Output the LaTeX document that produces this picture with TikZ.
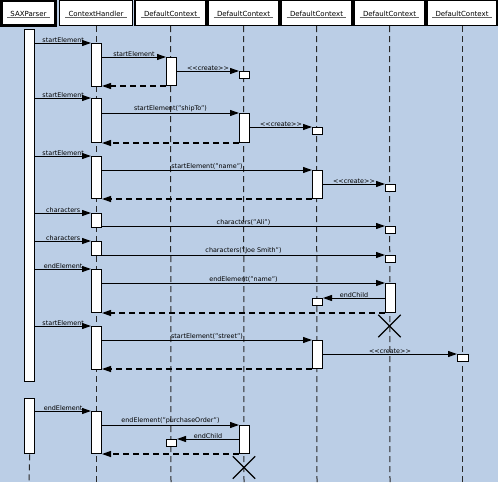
\documentclass[tikz,border=0pt]{standalone}
\usepackage{fontspec}
\setmainfont[Ligatures=NoCommon]{DejaVu Sans}
\usetikzlibrary{arrows.meta,shapes.misc}
\definecolor{bgblue}{RGB}{187,206,230}
\definecolor{lifegray}{RGB}{40,40,40}
\newcommand{\crt}{{<}{<}create{>}{>}}
\tikzset{
  hdr/.style={draw=black, fill=white, line width=1.2pt, rectangle, inner sep=0pt, minimum height=25pt},
  htxt/.style={inner sep=1.2pt, font=\fontsize{7}{8}\selectfont},
  uline/.style={draw=gray!80!black, line width=0.6pt},
  life/.style={draw=lifegray, line width=1pt, dash pattern=on 6pt off 4pt},
  bar/.style={draw=black, fill=white, line width=1pt, rectangle, inner sep=0pt, minimum width=10pt, anchor=north west},
  obox/.style={draw=black, fill=white, line width=1pt, rectangle, inner sep=0pt, minimum width=10pt, minimum height=7pt, anchor=north west},
  msg/.style={draw=black, line width=1pt, -{Triangle[length=9pt,width=6pt]}},
  ret/.style={draw=black, line width=1.2pt, dash pattern=on 6pt off 4pt, -{Triangle[length=9pt,width=6pt]}},
  lbl/.style={inner sep=0.3pt, above, font=\fontsize{6.4}{7}\selectfont},
  destroy/.style={cross out, draw=black, line width=1.3pt, minimum width=21pt, minimum height=21pt, inner sep=0pt}
}
\begin{document}
\begin{tikzpicture}[x=1pt,y=-1pt]
\fill[bgblue] (0,0) rectangle (498,482);
\useasboundingbox (0,0) rectangle (498,482);

% headers
\node[hdr, line width=2.5pt, minimum width=54pt] (hSAX) at (28.5,13) {};
\node[hdr, minimum width=73pt] (hCH) at (96,13) {};
\node[hdr, minimum width=71pt] (hD1) at (170.5,13) {};
\node[hdr, minimum width=71pt] (hD2) at (243.5,13) {};
\node[hdr, minimum width=71pt] (hD3) at (316.5,13) {};
\node[hdr, minimum width=71pt] (hD4) at (389.5,13) {};
\node[hdr, minimum width=70pt] (hD5) at (462,13) {};
\foreach \n/\t in {SAX/SAXParser, CH/ContextHandler, D1/DefaultContext, D2/DefaultContext, D3/DefaultContext, D4/DefaultContext, D5/DefaultContext}{
  \node[htxt] (t\n) at ([yshift=-0.5pt]h\n.center) {\t};
  \draw[uline] ([xshift=-2pt]t\n.south west) -- ([xshift=2pt]t\n.south east);
}

% lifeline ends
\coordinate (eSAX) at (29,482);
\coordinate (eCH) at (96,482);
\coordinate (eD1) at (171,482);
\coordinate (eD2) at (244,482);
\coordinate (eD3) at (317,482);
\coordinate (eD4) at (390,482);
\coordinate (eD5) at (462,482);
\foreach \n in {CH,D1,D2,D3,D4,D5}{
  \draw[life] (h\n.south) -- (e\n);
}

% activation bars and objects
\node[bar, minimum height=352pt, line width=1.4pt] (sax1) at (24,29) {};
\node[bar, minimum height=55pt, line width=1.4pt] (sax2) at (24,398) {};
\draw[life] (sax2.south) -- (eSAX);

\node[bar, minimum height=43pt] (c1) at (91,43) {};
\node[bar, minimum height=44pt] (c2) at (91,98) {};
\node[bar, minimum height=42pt] (c3) at (91,156) {};
\node[bar, minimum height=14pt] (c4) at (91,213) {};
\node[bar, minimum height=14pt] (c5) at (91,241) {};
\node[bar, minimum height=43pt] (c6) at (91,269) {};
\node[bar, minimum height=43pt] (c7) at (91,326) {};
\node[bar, minimum height=42pt] (c8) at (91,411) {};

\node[bar, minimum height=28pt] (d1a) at (166,57) {};
\node[obox] (d1b) at (166,439) {};

\node[obox] (e1) at (239,71) {};
\node[bar, minimum height=29pt] (e2) at (239,113) {};
\node[bar, minimum height=28pt] (e3) at (239,425) {};

\node[obox] (f1) at (312,127) {};
\node[bar, minimum height=28pt] (f2) at (312,170) {};
\node[obox] (f3) at (312,298) {};
\node[bar, minimum height=28pt] (f4) at (312,340) {};

\node[obox] (g1) at (385,184) {};
\node[obox] (g2) at (385,226) {};
\node[obox] (g3) at (385,255) {};
\node[bar, minimum height=29pt] (g4) at (385,283) {};

\node[obox, minimum width=11pt] (h1) at (457,354) {};

% SAXParser -> ContextHandler
\draw[msg] (sax1.east |- c1.north west) -- node[lbl] {startElement} (c1.north west);
\draw[msg] (sax1.east |- c2.north west) -- node[lbl] {startElement} (c2.north west);
\draw[msg] (sax1.east |- c3.north west) -- node[lbl] {startElement} (c3.north west);
\draw[msg] (sax1.east |- c4.north west) -- node[lbl] {characters} (c4.north west);
\draw[msg] (sax1.east |- c5.north west) -- node[lbl] {characters} (c5.north west);
\draw[msg] (sax1.east |- c6.north west) -- node[lbl] {endElement} (c6.north west);
\draw[msg] (sax1.east |- c7.north west) -- node[lbl] {startElement} (c7.north west);
\draw[msg] (sax2.east |- c8.north west) -- node[lbl] {endElement} (c8.north west);

% block 1
\draw[msg] (c1.east |- d1a.north west) -- node[lbl] {startElement} (d1a.north west);
\draw[msg] (d1a.east |- e1.north west) -- node[lbl] {\crt} (e1.north west);
\draw[ret] (d1a.south west) -- (c1.east |- d1a.south west);

% block 2
\draw[msg] (c2.east |- e2.north west) -- node[lbl] {startElement("shipTo")} (e2.north west);
\draw[msg] (e2.east |- f1.north west) -- node[lbl] {\crt} (f1.north west);
\draw[ret] (e2.south west) -- (c2.east |- e2.south west);

% block 3
\draw[msg] (c3.east |- f2.north west) -- node[lbl] {startElement("name")} (f2.north west);
\draw[msg] (f2.east |- g1.north west) -- node[lbl] {\crt} (g1.north west);
\draw[ret] (f2.south west) -- (c3.east |- f2.south west);

% characters
\draw[msg] (c4.east |- g2.north west) -- node[lbl] {characters("Ali")} (g2.north west);
\draw[msg] (c5.east |- g3.north west) -- node[lbl] {characters("Joe Smith")} (g3.north west);

% endElement name
\draw[msg] (c6.east |- g4.north west) -- node[lbl] {endElement("name")} (g4.north west);
\draw[msg] (g4.west |- f3.north east) -- node[lbl] {endChild} (f3.north east);
\draw[ret] (g4.south west) -- (c6.east |- g4.south west);
\node[destroy] (x1) at (389.5,326) {};

% street
\draw[msg] (c7.east |- f4.north west) -- node[lbl] {startElement("street")} (f4.north west);
\draw[msg] (f4.east |- h1.north west) -- node[lbl] {\crt} (h1.north west);
\draw[ret] (f4.south west) -- (c7.east |- f4.south west);

% purchaseOrder
\draw[msg] (c8.east |- e3.north west) -- node[lbl] {endElement("purchaseOrder")} (e3.north west);
\draw[msg] (e3.west |- d1b.north east) -- node[lbl] {endChild} (d1b.north east);
\draw[ret] (e3.south west) -- (c8.east |- e3.south west);
\node[destroy] (x2) at (244,467.5) {};
\end{tikzpicture}
\end{document}
